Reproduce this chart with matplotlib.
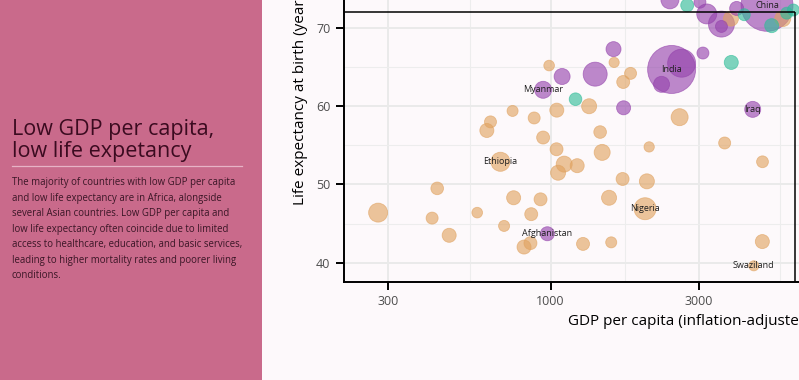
import numpy as np
import matplotlib
matplotlib.use("Agg")
import matplotlib.pyplot as plt
from matplotlib.patches import Rectangle
from matplotlib.lines import Line2D

plt.rcParams['font.family'] = ['Open Sans', 'DejaVu Sans']

# ---- data ----
# Africa
af_gdp = [640, 623, 754, 689, 989, 1602, 1810, 1714, 1047, 1331, 885, 1444, 946, 1045,
          1466, 2078, 3639, 4819, 2605, 1106, 1057, 1218, 1706, 2043, 431, 278, 415, 471,
          580, 760, 928, 1543, 2016, 866, 708, 821, 861, 1272, 1568, 4813, 4517, 3813, 5600]
af_life = [58.0, 56.9, 59.4, 52.9, 65.2, 65.6, 64.2, 63.1, 59.5, 60.0, 58.5, 56.7, 56.0, 54.5,
           54.1, 54.8, 55.3, 52.9, 58.6, 52.6, 51.5, 52.4, 50.7, 50.4, 49.5, 46.4, 45.7, 43.5,
           46.4, 48.3, 48.1, 48.3, 46.9, 46.2, 44.7, 42.0, 42.5, 42.4, 42.6, 42.7, 39.6, 71.2, 71.2]
af_pop = [20, 44, 10, 120, 6, 2, 20, 31, 44, 57, 20, 27, 31, 31,
          71, 3, 20, 18, 86, 71, 57, 44, 31, 57, 27, 118, 20, 44,
          6, 44, 31, 57, 174, 31, 10, 44, 31, 31, 10, 44, 1, 57, 71]
af_name = [''] * len(af_gdp)
af_name[3] = 'Ethiopia'
af_name[32] = 'Nigeria'
af_name[40] = 'Swaziland'

# Asia
as_gdp = [1595, 1089, 1392, 946, 1719, 976, 2455, 2644, 2278, 3097, 4481,
          2424, 3029, 3186, 3553, 3553, 3978, 4983]
as_life = [67.3, 63.8, 64.1, 62.1, 59.8, 43.7, 64.7, 65.5, 62.8, 66.8, 59.6,
           73.6, 73.3, 71.8, 70.5, 70.2, 72.5, 72.9]
as_pop = [57, 71, 216, 86, 44, 44, 1000, 310, 71, 20, 71,
          102, 20, 136, 261, 20, 44, 1180]
as_name = ['', '', '', 'Myanmar', '', 'Afghanistan', 'India', '', '', '', 'Iraq',
           '', '', '', '', '', '', 'China']

# Americas
am_gdp = [1203, 3822, 2756, 4209, 5159, 5768, 6058]
am_life = [60.9, 65.6, 72.9, 71.7, 70.3, 71.9, 72.3]
am_pop = [27, 44, 31, 20, 44, 20, 20]
am_name = [''] * len(am_gdp)

x_ticks = [300, 1000, 3000, 10000]
x_tick_labels = ['300', '1000', '3000', '10000']
y_ticks = [40, 50, 60, 70]

title = "Low GDP per capita,\nlow life expetancy"
body = ("The majority of countries with low GDP per capita\n"
        "and low life expectancy are in Africa, alongside\n"
        "several Asian countries. Low GDP per capita and\n"
        "low life expectancy often coincide due to limited\n"
        "access to healthcare, education, and basic services,\n"
        "leading to higher mortality rates and poorer living\n"
        "conditions.")

W, H = 799, 380
fig = plt.figure(figsize=(W / 100, H / 100), dpi=100, facecolor='#FDF9FB')

# left text panel
fig.add_artist(Rectangle((0, 0), 262 / W, 1, transform=fig.transFigure,
                         facecolor='#C96A8B', edgecolor='none', zorder=0))
fig.text(12 / W, 1 - 157.5 / H, title, fontsize=15.5, color='#3B0B20',
         va='baseline', ha='left', linespacing=1.08)
fig.add_artist(Line2D([12 / W, 242 / W], [1 - 166 / H] * 2, transform=fig.transFigure,
                      color='#E7B3C6', lw=0.9))
fig.text(12 / W, 1 - 177.5 / H, body, fontsize=6.95, color='#3A1626',
         va='top', ha='left', linespacing=1.56)

# chart
ax = fig.add_axes([344 / W, 98.3 / H, (W - 344) / W, 1 - 98.3 / H])
ax.set_facecolor('none')
ax.set_xscale('log')

ax.set_xticks(x_ticks)
ax.set_xticklabels(x_tick_labels)
ax.set_xticks([np.sqrt(a * b) for a, b in zip([100] + x_ticks[:-1], x_ticks)], minor=True)
ax.set_yticks(y_ticks)
ax.set_yticks([45, 55, 65], minor=True)
ax.tick_params(which='major', length=5.8, width=1.4, color='black',
               labelsize=9, labelcolor='#4D4D4D', pad=4)
ax.tick_params(which='minor', length=0)
ax.grid(which='major', color='#EAEAEA', lw=1.4, zorder=0)
ax.grid(which='minor', color='#EDEDED', lw=0.8, zorder=0)
ax.set_axisbelow(True)
for s in ['top', 'right']:
    ax.spines[s].set_visible(False)
for s in ['left', 'bottom']:
    ax.spines[s].set_linewidth(1.4)


def radius_px(pop):
    return np.sqrt(25 + 0.551 * np.asarray(pop, dtype=float))


groups = [
    (af_gdp, af_life, af_pop, af_name, '#E0A25F'),
    (as_gdp, as_life, as_pop, as_name, '#9442AC'),
    (am_gdp, am_life, am_pop, am_name, '#2EBD98'),
]
rows = []
for g, l, p, n, c in groups:
    for i in range(len(g)):
        rows.append((g[i], l[i], p[i], n[i], c))
rows.sort(key=lambda r: -r[2])

gx = [r[0] for r in rows]
gy = [r[1] for r in rows]
sizes = (2 * radius_px([r[2] for r in rows]) * 0.72) ** 2
cols = [r[4] for r in rows]
ax.scatter(gx, gy, s=sizes, c=cols, alpha=0.62, edgecolors=cols, linewidths=0.6, zorder=3)

for r in rows:
    if r[3]:
        ax.text(r[0], r[1], r[3], fontsize=6.5, color='#1E1E1E',
                ha='center', va='center', zorder=5)

# highlight box
ax.hlines(72, 215.8, 6150, color='black', lw=1.1, zorder=4)
ax.vlines(6150, 37.57, 72, color='black', lw=1.1, zorder=4)
ax.set_xlim(215.8, 6318)
ax.set_ylim(37.57, 73.58)

ax.set_xlabel('GDP per capita (inflation-adjusted)', fontsize=11, color='black',
              ha='left', va='center')
ax.xaxis.set_label_coords(567.7 / W, 1 - 321.7 / H, transform=fig.transFigure)
ax.set_ylabel('Life expectancy at birth (years)', fontsize=11, color='black',
              ha='left', va='center')
ax.yaxis.set_label_coords(300 / W, 1 - 205 / H, transform=fig.transFigure)

fig.savefig('out.png', dpi=100, facecolor=fig.get_facecolor())
